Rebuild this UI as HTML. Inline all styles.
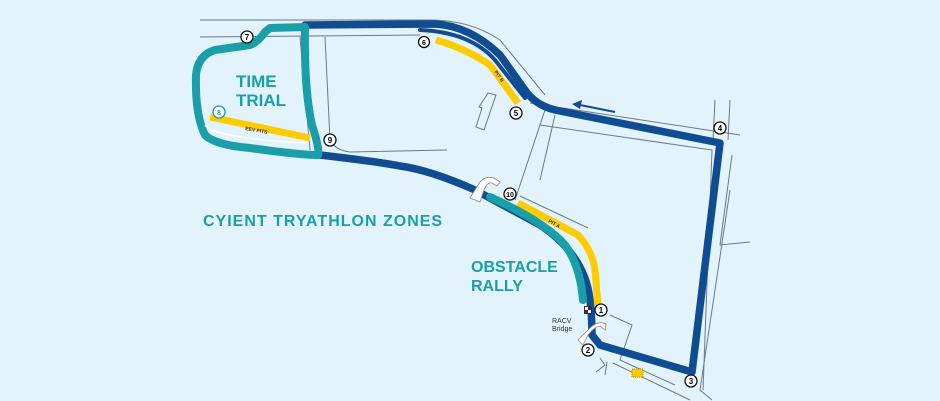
<!DOCTYPE html>
<html><head><style>
html,body{margin:0;padding:0;background:#e2f3fc;}
svg{display:block}
text{font-family:"Liberation Sans",sans-serif;}
</style></head><body>
<svg width="940" height="401" viewBox="0 0 940 401" xmlns="http://www.w3.org/2000/svg">
<rect width="940" height="401" fill="#e2f3fc"/>
<g fill="none" stroke="#6b7a85" stroke-width="1">
<path d="M200 20 L430 20 Q470 20 500 40 L545 95"/>
<path d="M200 37 L420 35"/>
<path d="M300 37 Q305 95 310 150"/>
<path d="M325 37 Q328 100 330 140 Q335 150 350 152 L447 150"/>
<path d="M545 110 L515 200"/>
<path d="M555 115 L540 180"/>
<path d="M530 103 L740 135"/>
<path d="M540 125 L712 150 L703 390"/>
<path d="M715 100 L713 140"/>
<path d="M730 100 L728 140"/>
<path d="M732 155 L720 245 L750 242"/>
<path d="M730 190 L700 390 L712 400"/>
<path d="M520 196 L588 228"/>
<path d="M610 315 L632 325 L620 360 L675 385"/>
<path d="M600 358 L605 365 L596 372"/>
<path d="M607 362 L605 375"/>
<path d="M613 363 L690 400"/>
<path d="M488 93 L496 95 L484 130 L476 127 L482 108 L479 107 Z"/>
</g>
<g fill="none" stroke="#0f4c92" stroke-linejoin="round" stroke-linecap="round">
<path d="M305 25 L435 24 Q470 26 500 55 L525 90 Q535 105 555 110 L720 143 L692 372 L600 345 L592 335 Q592 318 590 300 Q585 255 540 225 L475 190 Q430 170 400 166 Q380 162 320 155" stroke-width="7.5"/>
<path d="M420 30 Q470 32 495 60 L525 98" stroke-width="4"/>
</g>
<g fill="none" stroke="#ffcc00" stroke-width="7" stroke-linecap="butt">
<path d="M436 40 Q465 48 490 65 L518 103"/>
<path d="M210 117 L310 138"/>
<path d="M518 203 L578 235 Q592 250 595 270 L598 306"/>
</g>
<g fill="none" stroke="#1a9fa8" stroke-width="8" stroke-linejoin="round" stroke-linecap="round">
<path d="M305 27 Q304 90 312 125 Q320 150 318 155 Q300 155 250 148 Q215 145 205 135 Q195 115 196 75 Q198 55 215 50 L250 45 Q258 42 265 32 L270 28 Z"/>
<path d="M490 197 Q545 222 565 245 Q580 265 583 300"/>
</g>
<path d="M205 125 Q215 138 305 143" fill="none" stroke="#fff" stroke-width="1.5"/>
<g fill="#fff" stroke="#888" stroke-width="0.8">
<path d="M470 198 L478 185 Q484 175 494 178 L500 182 L497 186 L492 183 Q487 182 484 190 L480 202 Z"/>
<path d="M578 340 L590 328 Q598 320 606 324 L605 330 L600 326 Q594 327 588 335 L583 345 Z"/>
</g>
<rect x="584" y="306" width="8" height="8" fill="#333"/>
<rect x="585" y="307" width="3" height="3" fill="#fff"/><rect x="588" y="310" width="3" height="3" fill="#fff"/>
<rect x="632" y="369" width="11" height="8" fill="#ffcc00" stroke="#b08800" stroke-dasharray="1 1"/>
<path d="M615 112 L580 105" stroke="#0f4c92" stroke-width="2" fill="none"/>
<path d="M572 104 L582 100 L580 109 Z" fill="#0f4c92"/>
<g font-size="8" font-weight="bold" text-anchor="middle">
<g fill="#fff" stroke="#111" stroke-width="1.3">
<circle cx="247" cy="37" r="6"/><circle cx="424" cy="42" r="5.5"/><circle cx="516" cy="113" r="6"/>
<circle cx="720" cy="128" r="6"/><circle cx="330" cy="140" r="6"/><circle cx="510" cy="194" r="6"/>
<circle cx="601" cy="310" r="6"/><circle cx="588" cy="350" r="6"/><circle cx="691" cy="381" r="6"/>
</g>
<circle cx="219" cy="112" r="6" fill="#fff" stroke="#1a9fa8" stroke-width="1.3"/>
<text x="247" y="40">7</text><text x="424" y="45" font-size="7">6</text><text x="516" y="116">5</text>
<text x="720" y="131">4</text><text x="330" y="143">9</text><text x="510" y="197" font-size="7">10</text>
<text x="601" y="313">1</text><text x="588" y="353">2</text><text x="691" y="384">3</text>
<text x="219" y="115" fill="#1a9fa8" font-size="7">8</text>
</g>
<g font-size="5" fill="#333" font-weight="bold">
<text x="245" y="130" transform="rotate(10 245 130)">EEV PITS</text>
<text x="494" y="72" transform="rotate(55 494 72)">PIT B</text>
<text x="548" y="222" transform="rotate(30 548 222)">PIT A</text>
</g>
<text x="552" y="323" font-size="7" fill="#333">RACV</text>
<text x="552" y="331" font-size="7" fill="#333">Bridge</text>
<g fill="#1a9fa8" font-weight="bold">
<text x="236" y="87" font-size="17">TIME</text>
<text x="236" y="106" font-size="17">TRIAL</text>
<text x="203" y="226" font-size="16" letter-spacing="1">CYIENT TRYATHLON ZONES</text>
<text x="471" y="272" font-size="16">OBSTACLE</text>
<text x="471" y="291" font-size="16">RALLY</text>
</g>
</svg>
</body></html>
